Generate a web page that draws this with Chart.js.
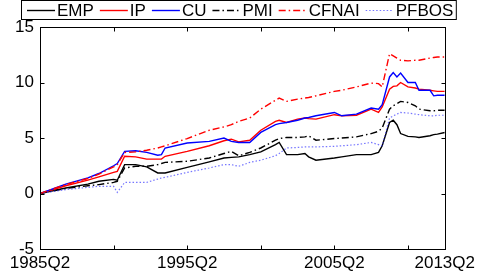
<!DOCTYPE html>
<html>
<head>
<meta charset="utf-8">
<script src="https://cdn.jsdelivr.net/npm/chart.js@4.4.1/dist/chart.umd.min.js"></script>
<style>
  body { margin: 0; background: #fff; }
</style>
</head>
<body>
<canvas id="chart" width="479" height="276"></canvas>
<script>
// quarters since 1985Q2
var quarters = [0, 7, 13, 16, 20, 21, 23, 26, 29, 32, 33, 34, 40, 46, 50, 52, 54, 57, 60, 64, 65, 67, 70, 72, 73, 75, 80, 82, 86, 90, 92, 93, 95, 96, 97, 98, 100, 102, 103, 106, 107, 108, 110];

var emp   = [0, 0.5, 0.85, 1.1, 1.27, 1.2, 2.6, 2.6, 2.4, 1.85, 1.85, 1.85, 2.35, 2.85, 3.2, 3.25, 3.3, 3.5, 3.75, 4.4, 4.6, 3.5, 3.5, 3.6, 3.3, 3.0, 3.2, 3.3, 3.5, 3.5, 3.7, 4.3, 6.4, 6.6, 6.2, 5.4, 5.15, 5.1, 5.05, 5.2, 5.3, 5.35, 5.5];
var ip    = [0, 0.7, 1.2, 1.5, 1.9, 2.0, 3.35, 3.3, 3.1, 3.1, 3.1, 3.35, 3.8, 4.3, 4.75, 4.9, 4.65, 4.8, 5.7, 6.5, 6.6, 6.4, 6.7, 6.8, 6.75, 6.7, 7.1, 7.0, 7.05, 7.6, 7.3, 7.8, 9.4, 9.65, 9.7, 10.0, 9.6, 9.5, 9.4, 9.3, 9.25, 9.2, 9.2];
var cu    = [0, 0.85, 1.4, 1.8, 2.5, 2.7, 3.8, 3.85, 3.7, 3.45, 3.5, 4.1, 4.55, 4.7, 5.0, 4.7, 4.6, 4.6, 5.5, 6.2, 6.3, 6.4, 6.6, 6.8, 6.85, 7.0, 7.3, 7.0, 7.15, 7.7, 7.6, 8.0, 10.5, 10.9, 10.5, 10.85, 10.0, 10.0, 9.3, 9.3, 8.8, 8.85, 8.85];
var pmi   = [0, 0.45, 0.7, 0.8, 1.0, 1.1, 2.3, 2.45, 2.45, 2.6, 2.7, 2.8, 2.9, 3.2, 3.6, 3.8, 3.4, 3.7, 4.1, 4.8, 4.95, 5.05, 5.05, 5.1, 5.2, 4.8, 4.95, 5.0, 5.1, 5.4, 5.6, 5.9, 7.6, 7.9, 8.1, 8.3, 8.2, 7.9, 7.6, 7.45, 7.45, 7.5, 7.5];
var cfnai = [0, 0.8, 1.35, 1.75, 2.4, 2.6, 3.7, 3.75, 3.9, 4.1, 4.2, 4.3, 4.95, 5.7, 6.0, 6.2, 6.5, 6.8, 7.6, 8.4, 8.6, 8.3, 8.5, 8.6, 8.65, 8.8, 9.2, 9.3, 9.6, 9.95, 9.9, 9.6, 12.6, 12.4, 12.2, 12.0, 11.95, 12.0, 12.0, 12.2, 12.25, 12.3, 12.3];
var pfbos = [0, 0.35, 0.55, 0.65, 0.65, 0.1, 1.0, 1.0, 1.0, 1.3, 1.4, 1.45, 1.9, 2.3, 2.6, 2.6, 2.45, 2.8, 3.0, 3.4, 3.6, 4.1, 4.15, 4.2, 4.2, 4.2, 4.25, 4.3, 4.4, 4.6, 4.4, 4.3, 6.8, 7.0, 7.15, 7.3, 7.25, 7.15, 7.1, 7.0, 7.0, 7.05, 7.05];

var xTickValues = [0, 20, 40, 60, 80, 100, 110];
var xTickLabels = ['1985Q2', '', '1995Q2', '', '2005Q2', '', '2013Q2'];
var yTickValues = [-5, 0, 5, 10, 15];

var FONT = '17px "Liberation Sans", Arial, sans-serif';

function pts(vals) {
  return quarters.map(function (q, i) { return { x: q, y: vals[i] }; });
}

function series(label, vals, color, dash, width, ord) {
  return {
    label: label,
    data: pts(vals),
    borderColor: color,
    borderWidth: width,
    borderDash: dash,
    pointRadius: 0,
    tension: 0,
    fill: false,
    order: ord
  };
}

// box + inward ticks + boxed legend, matlab style
var frame = {
  id: 'frame',
  afterDraw: function (chart) {
    var ctx = chart.ctx, a = chart.chartArea;
    var x = chart.scales.x, y = chart.scales.y;
    ctx.save();
    ctx.strokeStyle = '#000';
    ctx.lineWidth = 1;
    ctx.setLineDash([]);
    var L = Math.round(a.left) + 0.5, R = Math.round(a.right) + 0.5;
    var T = Math.round(a.top) + 0.5, B = Math.round(a.bottom) + 0.5;
    ctx.strokeRect(L, T, R - L, B - T);
    ctx.beginPath();
    xTickValues.forEach(function (v) {
      var px = Math.round(x.getPixelForValue(v)) + 0.5;
      ctx.moveTo(px, B); ctx.lineTo(px, B - 4);
      ctx.moveTo(px, T); ctx.lineTo(px, T + 4);
    });
    yTickValues.forEach(function (v) {
      var py = Math.round(y.getPixelForValue(v)) + 0.5;
      ctx.moveTo(L, py); ctx.lineTo(L + 4, py);
      ctx.moveTo(R, py); ctx.lineTo(R - 4, py);
    });
    ctx.stroke();

    // legend
    ctx.font = FONT;
    ctx.textBaseline = 'middle';
    ctx.fillStyle = '#000';
    var lx = 27, ly = 10.5;
    chart.data.datasets.forEach(function (ds) {
      ctx.save();
      ctx.strokeStyle = ds.borderColor;
      ctx.lineWidth = ds.borderWidth;
      ctx.setLineDash(ds.borderDash);
      ctx.beginPath();
      ctx.moveTo(lx, ly); ctx.lineTo(lx + 28, ly);
      ctx.stroke();
      ctx.restore();
      lx += 30;
      ctx.fillText(ds.label, lx, ly + 0.5);
      lx += ctx.measureText(ds.label).width + 6;
    });
    ctx.setLineDash([]);
    ctx.strokeRect(21.5, 0.5, lx - 3 - 21.5, 19);
    ctx.restore();
  }
};

new Chart(document.getElementById('chart'), {
  type: 'line',
  data: {
    datasets: [
      series('EMP', emp, '#000000', [], 1.4, 6),
      series('IP', ip, '#ff0000', [], 1.4, 5),
      series('CU', cu, '#0000ff', [], 1.4, 4),
      series('PMI', pmi, '#000000', [7, 3, 1.5, 3], 1.4, 3),
      series('CFNAI', cfnai, '#ff0000', [7, 3, 1.5, 3], 1.4, 2),
      series('PFBOS', pfbos, 'rgba(60,60,255,0.7)', [1.5, 2], 1.2, 1)
    ]
  },
  plugins: [frame],
  options: {
    responsive: false,
    animation: false,
    layout: { padding: { top: 27, right: 33, left: 0, bottom: 0 } },
    plugins: { legend: { display: false }, tooltip: { enabled: false } },
    scales: {
      x: {
        type: 'linear',
        min: 0,
        max: 110,
        grid: { display: false, drawTicks: false },
        border: { display: false },
        afterBuildTicks: function (s) {
          s.ticks = xTickValues.map(function (v) { return { value: v }; });
        },
        afterFit: function (s) { s.height = 27; },
        ticks: {
          autoSkip: false,
          maxRotation: 0,
          padding: 4,
          color: '#000',
          font: { family: '"Liberation Sans", Arial, sans-serif', size: 17 },
          callback: function (v) {
            var i = xTickValues.indexOf(v);
            return i < 0 ? '' : xTickLabels[i];
          }
        }
      },
      y: {
        min: -5,
        max: 15,
        grid: { display: false, drawTicks: false },
        border: { display: false },
        afterBuildTicks: function (s) {
          s.ticks = yTickValues.map(function (v) { return { value: v }; });
        },
        afterFit: function (s) { s.width = 40; },
        ticks: {
          padding: 6,
          color: '#000',
          font: { family: '"Liberation Sans", Arial, sans-serif', size: 17 }
        }
      }
    }
  }
});
</script>
</body>
</html>
